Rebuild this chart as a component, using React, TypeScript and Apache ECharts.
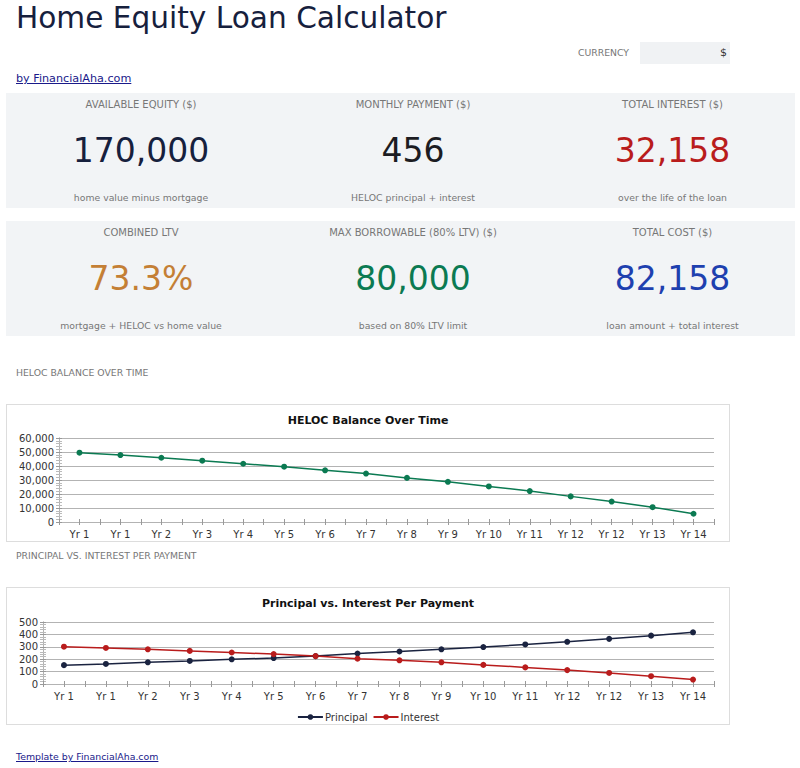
import React, { useEffect, useRef } from "react";
import * as echarts from "echarts";

const categories = ["Yr 1", "Yr 1", "Yr 2", "Yr 3", "Yr 4", "Yr 5", "Yr 6", "Yr 7", "Yr 8", "Yr 9", "Yr 10", "Yr 11", "Yr 12", "Yr 12", "Yr 13", "Yr 14"];
const balance = [49500, 47800, 45900, 43800, 41600, 39500, 36900, 34600, 31500, 28700, 25400, 22100, 18300, 14600, 10600, 5900];
const principal = [152, 162, 175, 186, 199, 209, 225, 246, 262, 280, 298, 319, 340, 364, 390, 417];
const interest = [301, 291, 280, 267, 254, 241, 225, 204, 191, 175, 154, 134, 112, 89, 63, 36];

const kpiRow1 = [
  { label: "AVAILABLE EQUITY ($)", value: "170,000", sub: "home value minus mortgage", color: "#16203d" },
  { label: "MONTHLY PAYMENT ($)", value: "456", sub: "HELOC principal + interest", color: "#1c1c22" },
  { label: "TOTAL INTEREST ($)", value: "32,158", sub: "over the life of the loan", color: "#b91c1c" },
];
const kpiRow2 = [
  { label: "COMBINED LTV", value: "73.3%", sub: "mortgage + HELOC vs home value", color: "#c47f35" },
  { label: "MAX BORROWABLE (80% LTV) ($)", value: "80,000", sub: "based on 80% LTV limit", color: "#0b7a52" },
  { label: "TOTAL COST ($)", value: "82,158", sub: "loan amount + total interest", color: "#1e40af" },
];

const FONT = "DejaVu Sans";

function xAxes() {
  const base = {
    type: "category" as const,
    data: categories,
    position: "bottom" as const,
    boundaryGap: true,
    axisLine: { show: true, lineStyle: { color: "#b3b3b3" } },
  };
  return [
    {
      ...base,
      axisTick: { show: true, length: 3, inside: false, lineStyle: { color: "#999" } },
      axisLabel: { show: true, color: "#333", fontSize: 10, fontFamily: FONT, margin: 7, interval: 0 },
    },
    {
      ...base,
      axisTick: { show: true, length: 3, inside: true, lineStyle: { color: "#999" } },
      axisLabel: { show: false },
    },
    {
      ...base,
      axisTick: { show: true, length: 3, inside: false, alignWithLabel: true, lineStyle: { color: "#999" } },
      axisLabel: { show: false },
    },
    {
      ...base,
      axisTick: { show: true, length: 3, inside: true, alignWithLabel: true, lineStyle: { color: "#999" } },
      axisLabel: { show: false },
    },
  ];
}

function yAxes(max: number, interval: number, fmt: (v: number) => string) {
  const base = {
    type: "value" as const,
    min: 0,
    max,
    interval,
    position: "left" as const,
    offset: 0,
    axisLine: { show: true, lineStyle: { color: "#b3b3b3" } },
  };
  return [
    {
      ...base,
      axisTick: { show: true, length: 3, inside: false, lineStyle: { color: "#999" } },
      minorTick: { show: true, splitNumber: 5, length: 3, lineStyle: { color: "#bbb" } },
      splitLine: { show: true, lineStyle: { color: "#b3b3b3", width: 1 } },
      axisLabel: { color: "#333", fontSize: 10, fontFamily: FONT, margin: 5, formatter: fmt },
    },
    {
      ...base,
      axisTick: { show: true, length: 3, inside: true, lineStyle: { color: "#999" } },
      minorTick: { show: true, splitNumber: 5, length: 3, lineStyle: { color: "#bbb" } },
      splitLine: { show: false },
      axisLabel: { show: false },
    },
  ];
}

function Chart({ option }: { option: any }) {
  const ref = useRef<HTMLDivElement>(null);
  useEffect(() => {
    if (!ref.current) return;
    const chart = echarts.init(ref.current, null, { renderer: "svg" });
    chart.setOption(option);
    return () => chart.dispose();
  }, [option]);
  return <div ref={ref} style={{ width: "100%", height: "100%" }} />;
}

const fmtThousands = (v: number) => v.toLocaleString("en-US");

const balanceOption = {
  animation: false,
  title: {
    text: "HELOC Balance Over Time",
    left: "center",
    top: 5,
    textStyle: { fontFamily: FONT, fontSize: 11, fontWeight: "bold", color: "#111" },
  },
  grid: { left: 52, right: 15, top: 33, bottom: 19 },
  xAxis: xAxes(),
  yAxis: yAxes(60000, 10000, fmtThousands),
  series: [
    {
      type: "line",
      name: "Balance",
      data: balance,
      symbol: "circle",
      symbolSize: 6,
      lineStyle: { color: "#0b7a52", width: 1.5 },
      itemStyle: { color: "#0b7a52" },
    },
  ],
};

const piOption = {
  animation: false,
  title: {
    text: "Principal vs. Interest Per Payment",
    left: "center",
    top: 5,
    textStyle: { fontFamily: FONT, fontSize: 11, fontWeight: "bold", color: "#111" },
  },
  legend: {
    top: 119,
    left: "center",
    itemWidth: 25,
    itemHeight: 7,
    itemGap: 5,
    textStyle: { fontFamily: FONT, fontSize: 10, color: "#333", padding: [0, 0, 0, -3] },
    data: ["Principal", "Interest"],
  },
  grid: { left: 36, right: 15, top: 34, bottom: 40 },
  xAxis: xAxes(),
  yAxis: yAxes(500, 100, (v: number) => String(v)),
  series: [
    {
      type: "line",
      name: "Principal",
      data: principal,
      symbol: "circle",
      symbolSize: 6,
      lineStyle: { color: "#1a2340", width: 1.5 },
      itemStyle: { color: "#1a2340" },
    },
    {
      type: "line",
      name: "Interest",
      data: interest,
      symbol: "circle",
      symbolSize: 6,
      lineStyle: { color: "#b91c1c", width: 1.5 },
      itemStyle: { color: "#b91c1c" },
    },
  ],
};

function KpiRow({ items, top }: { items: typeof kpiRow1; top: number }) {
  const widths = [270, 274, 245];
  let x = 0;
  return (
    <div style={{ position: "absolute", left: 6, top, width: 789, height: 115, background: "#f2f4f6" }}>
      {items.map((it, i) => {
        const left = x;
        x += widths[i];
        return (
          <div key={i} style={{ position: "absolute", left, top: 0, width: widths[i], height: 115, textAlign: "center" }}>
            <div style={{ position: "absolute", top: 5, width: "100%", fontSize: 10, color: "#777", lineHeight: "14px" }}>{it.label}</div>
            <div style={{ position: "absolute", top: 37, width: "100%", fontSize: 33, color: it.color, lineHeight: "42px" }}>{it.value}</div>
            <div style={{ position: "absolute", top: 98, width: "100%", fontSize: 9.3, color: "#777", lineHeight: "14px" }}>{it.sub}</div>
          </div>
        );
      })}
    </div>
  );
}

export default function App() {
  return (
    <div style={{ position: "absolute", left: 0, top: 0, width: 800, height: 768, fontFamily: FONT, background: "#fff" }}>
      <div style={{ position: "absolute", left: 16, top: 0, fontSize: 29.6, color: "#16203d", lineHeight: "36px" }}>
        Home Equity Loan Calculator
      </div>
      <div style={{ position: "absolute", left: 578, top: 46, fontSize: 9.3, color: "#777", lineHeight: "13px" }}>CURRENCY</div>
      <div style={{ position: "absolute", left: 640, top: 42, width: 90, height: 22, background: "#f0f2f4", boxSizing: "border-box", paddingRight: 3, textAlign: "right", fontSize: 11, color: "#333", lineHeight: "22px" }}>
        $
      </div>
      <a href="#" style={{ position: "absolute", left: 16, top: 71, fontSize: 11.2, color: "#1a1a8a", lineHeight: "15px" }}>
        by FinancialAha.com
      </a>
      <KpiRow items={kpiRow1} top={93} />
      <KpiRow items={kpiRow2} top={221} />
      <div style={{ position: "absolute", left: 16, top: 366, fontSize: 9.3, color: "#777", lineHeight: "13px" }}>HELOC BALANCE OVER TIME</div>
      <div style={{ position: "absolute", left: 6, top: 404, width: 724, height: 138, border: "1px solid #ddd", boxSizing: "border-box" }}>
        <Chart option={balanceOption} />
      </div>
      <div style={{ position: "absolute", left: 16, top: 549, fontSize: 9.3, color: "#777", lineHeight: "13px" }}>PRINCIPAL VS. INTEREST PER PAYMENT</div>
      <div style={{ position: "absolute", left: 6, top: 587, width: 724, height: 138, border: "1px solid #ddd", boxSizing: "border-box" }}>
        <Chart option={piOption} />
      </div>
      <a href="#" style={{ position: "absolute", left: 16, top: 750, fontSize: 9.4, color: "#1a1a8a", lineHeight: "14px" }}>
        Template by FinancialAha.com
      </a>
    </div>
  );
}
